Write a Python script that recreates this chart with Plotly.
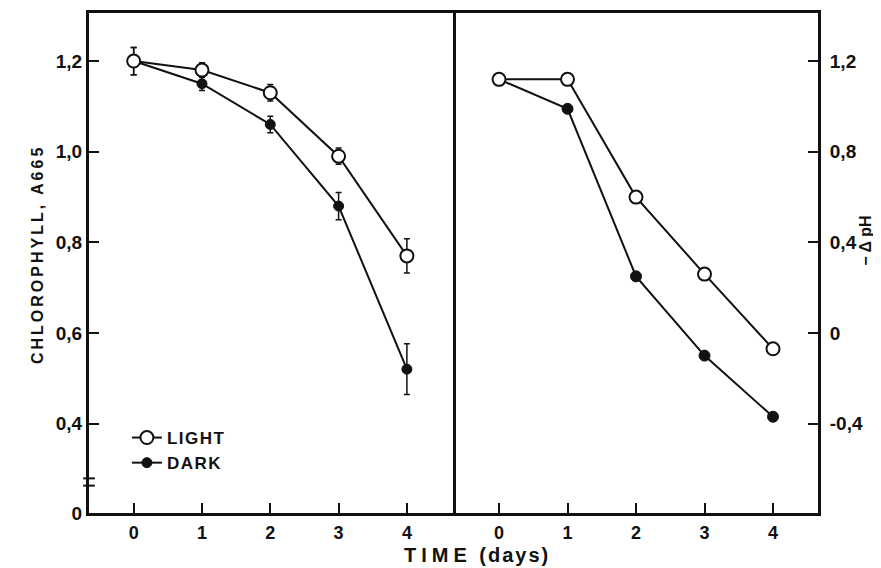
import plotly.graph_objects as go

# ---------------- data ----------------
days = [0, 1, 2, 3, 4]

# Left panel: chlorophyll, A665
chl_light = [1.20, 1.18, 1.13, 0.99, 0.77]
chl_light_err = [0.030, 0.016, 0.018, 0.018, 0.038]
chl_dark = [1.20, 1.15, 1.06, 0.88, 0.52]
chl_dark_err = [0.030, 0.015, 0.018, 0.030, 0.056]

# Right panel: -delta pH
dph_light = [1.12, 1.12, 0.60, 0.26, -0.07]
dph_dark = [1.12, 0.99, 0.25, -0.10, -0.37]

# tick labels
left_tickvals = [0.2026, 0.4, 0.6, 0.8, 1.0, 1.2]
left_ticktext = ["0", "0,4", "0,6", "0,8", "1,0", "1,2"]
right_tickvals = [-0.4, 0.0, 0.4, 0.8, 1.2]
right_ticktext = ["-0,4", "0", "0,4", "0,8", "1,2"]
x_tickvals = [0, 1, 2, 3, 4]
x_ticktext = ["0", "1", "2", "3", "4"]

FONT = "Liberation Sans"
BLACK = "#111111"


def spaced(txt, px):
    return '<span style="letter-spacing:%spx">%s</span>' % (px, txt)


fig = go.Figure()

# left panel: dark first so the open light circle covers the shared day-0 point
fig.add_trace(go.Scatter(
    x=days, y=chl_dark, name=spaced("DARK", 1.5), legendrank=2,
    mode="lines+markers", xaxis="x", yaxis="y",
    line=dict(color=BLACK, width=2),
    marker=dict(symbol="circle", size=10, color=BLACK, line=dict(color=BLACK, width=1)),
    error_y=dict(type="data", array=chl_dark_err, color=BLACK, thickness=1.5, width=3),
))
fig.add_trace(go.Scatter(
    x=days, y=chl_light, name=spaced("LIGHT", 1.5), legendrank=1,
    mode="lines+markers", xaxis="x", yaxis="y",
    line=dict(color=BLACK, width=2),
    marker=dict(symbol="circle", size=13, color="white", line=dict(color=BLACK, width=2)),
    error_y=dict(type="data", array=chl_light_err, color=BLACK, thickness=1.5, width=3),
))

# right panel
fig.add_trace(go.Scatter(
    x=days, y=dph_dark, name="DARK", showlegend=False,
    mode="lines+markers", xaxis="x2", yaxis="y2",
    line=dict(color=BLACK, width=2),
    marker=dict(symbol="circle", size=11, color=BLACK, line=dict(color=BLACK, width=1)),
))
fig.add_trace(go.Scatter(
    x=days, y=dph_light, name="LIGHT", showlegend=False,
    mode="lines+markers", xaxis="x2", yaxis="y2",
    line=dict(color=BLACK, width=2),
    marker=dict(symbol="circle", size=13, color="white", line=dict(color=BLACK, width=2)),
))

split = 364 / 729

axis_common = dict(
    showline=True, linecolor=BLACK, linewidth=3, mirror=True,
    ticks="inside", ticklen=10, tickwidth=2, tickcolor=BLACK,
    showgrid=False, zeroline=False, automargin=False,
    tickfont=dict(family=FONT, size=18, color=BLACK, weight="bold"),
)

fig.update_layout(
    width=881, height=568,
    margin=dict(l=81, r=71, t=5, b=63),
    paper_bgcolor="white", plot_bgcolor="white",
    font=dict(family=FONT, color=BLACK),
    xaxis=dict(axis_common, domain=[0, split], range=[-0.654, 4.675],
               tickvals=x_tickvals, ticktext=x_ticktext, anchor="y",
               ticklabelstandoff=1),
    yaxis=dict(axis_common, domain=[0, 1], range=[0.2026, 1.306],
               tickvals=left_tickvals, ticktext=left_ticktext, anchor="x",
               tickfont=dict(family=FONT, size=19, color=BLACK, weight="bold")),
    xaxis2=dict(axis_common, domain=[split, 1], range=[-0.672, 4.657],
                tickvals=x_tickvals, ticktext=x_ticktext, anchor="y2",
                ticklabelstandoff=1),
    yaxis2=dict(axis_common, domain=[0, 1], range=[-0.795, 1.413],
                tickvals=right_tickvals, ticktext=right_ticktext, anchor="x2",
                side="right", mirror=False, ticklabelstandoff=5,
                tickfont=dict(family=FONT, size=19, color=BLACK, weight="bold")),
    showlegend=True,
    legend=dict(x=0.052, y=0.186, xanchor="left", yanchor="top",
                bgcolor="rgba(0,0,0,0)", itemwidth=30, tracegroupgap=0,
                font=dict(family=FONT, size=17, color=BLACK, weight="bold")),
    annotations=[
        dict(text=spaced("CHLOROPHYLL, A665", 3), xref="paper", yref="paper",
             x=-0.0857, y=0.516, textangle=-90, showarrow=False,
             font=dict(family=FONT, size=16, color=BLACK, weight="bold")),
        dict(text="− Δ pH", xref="paper", yref="paper",
             x=1.08, y=0.544, textangle=-90, showarrow=False,
             font=dict(family=FONT, size=16, color=BLACK, weight="bold")),
        dict(text=spaced("TIME", 5) + spaced(" (days)", 2), xref="paper", yref="paper",
             x=0.532, y=-0.083, yanchor="middle", showarrow=False,
             font=dict(family=FONT, size=20, color=BLACK, weight="bold")),
    ],
    shapes=[
        dict(type="line", xref="paper", yref="y", x0=-0.008, x1=0.008,
             y0=0.263, y1=0.263, line=dict(color=BLACK, width=2)),
        dict(type="line", xref="paper", yref="y", x0=-0.008, x1=0.008,
             y0=0.279, y1=0.279, line=dict(color=BLACK, width=2)),
    ],
)

fig.write_html("out.html")
